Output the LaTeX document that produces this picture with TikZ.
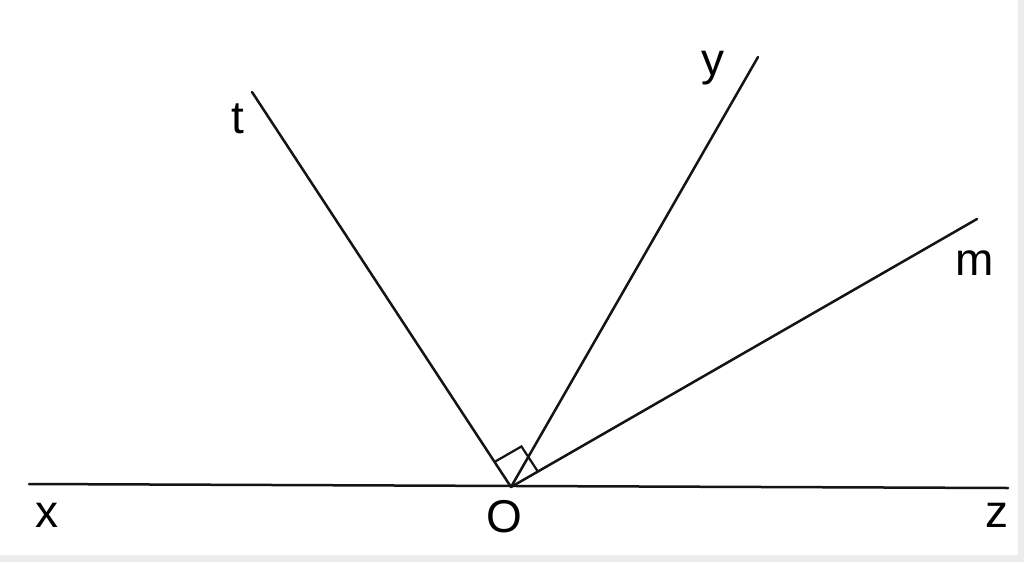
\documentclass[tikz,border=0pt]{standalone}
\usepackage{fontspec}
\setmainfont{Liberation Sans}
\usetikzlibrary{calc}
\definecolor{edgegray}{RGB}{236,236,236}
\definecolor{inkc}{RGB}{20,20,20}
\tikzset{
  ray/.style={line width=2.5pt, line cap=round, draw=inkc},
  lbl/.style={inner sep=0pt, anchor=base, font=\fontsize{46}{50}\selectfont},
}
\begin{document}
\begin{tikzpicture}[x=1pt,y=-1pt]
\useasboundingbox (0,0) rectangle (1024,562);
\fill[white] (0,0) rectangle (1024,562);
\fill[edgegray] (1018,0) rectangle (1024,562);
\fill[edgegray] (0,555) rectangle (1024,562);
\coordinate (O) at (511,487);
\coordinate (X) at (29,484);
\coordinate (Z) at (1008,488);
\coordinate (T) at (252,92);
\coordinate (Y) at (758,57);
\coordinate (M) at (977,219);
\draw[ray] (X) -- (Z);
\draw[ray] (O) -- (T);
\draw[ray] (O) -- (Y);
\draw[ray] (O) -- (M);
\coordinate (ra) at ($(O)!30pt!(T)$);
\coordinate (rb) at ($(O)!31pt!(M)$);
\coordinate (rc) at ($(ra)+(rb)-(O)$);
\draw[line width=2.2pt, draw=inkc] (ra) -- (rc) -- (rb);
\node[lbl] (lx) at (46.5,527) {x};
\node[lbl] (lo) at (504.5,532) {O};
\node[lbl] (lz) at (996.5,527) {z};
\node[lbl] (lt) at (237.5,133) {t};
\node[lbl] (ly) at (713,75) {y};
\node[lbl] (lm) at (974.5,275) {m};
\end{tikzpicture}
\end{document}
